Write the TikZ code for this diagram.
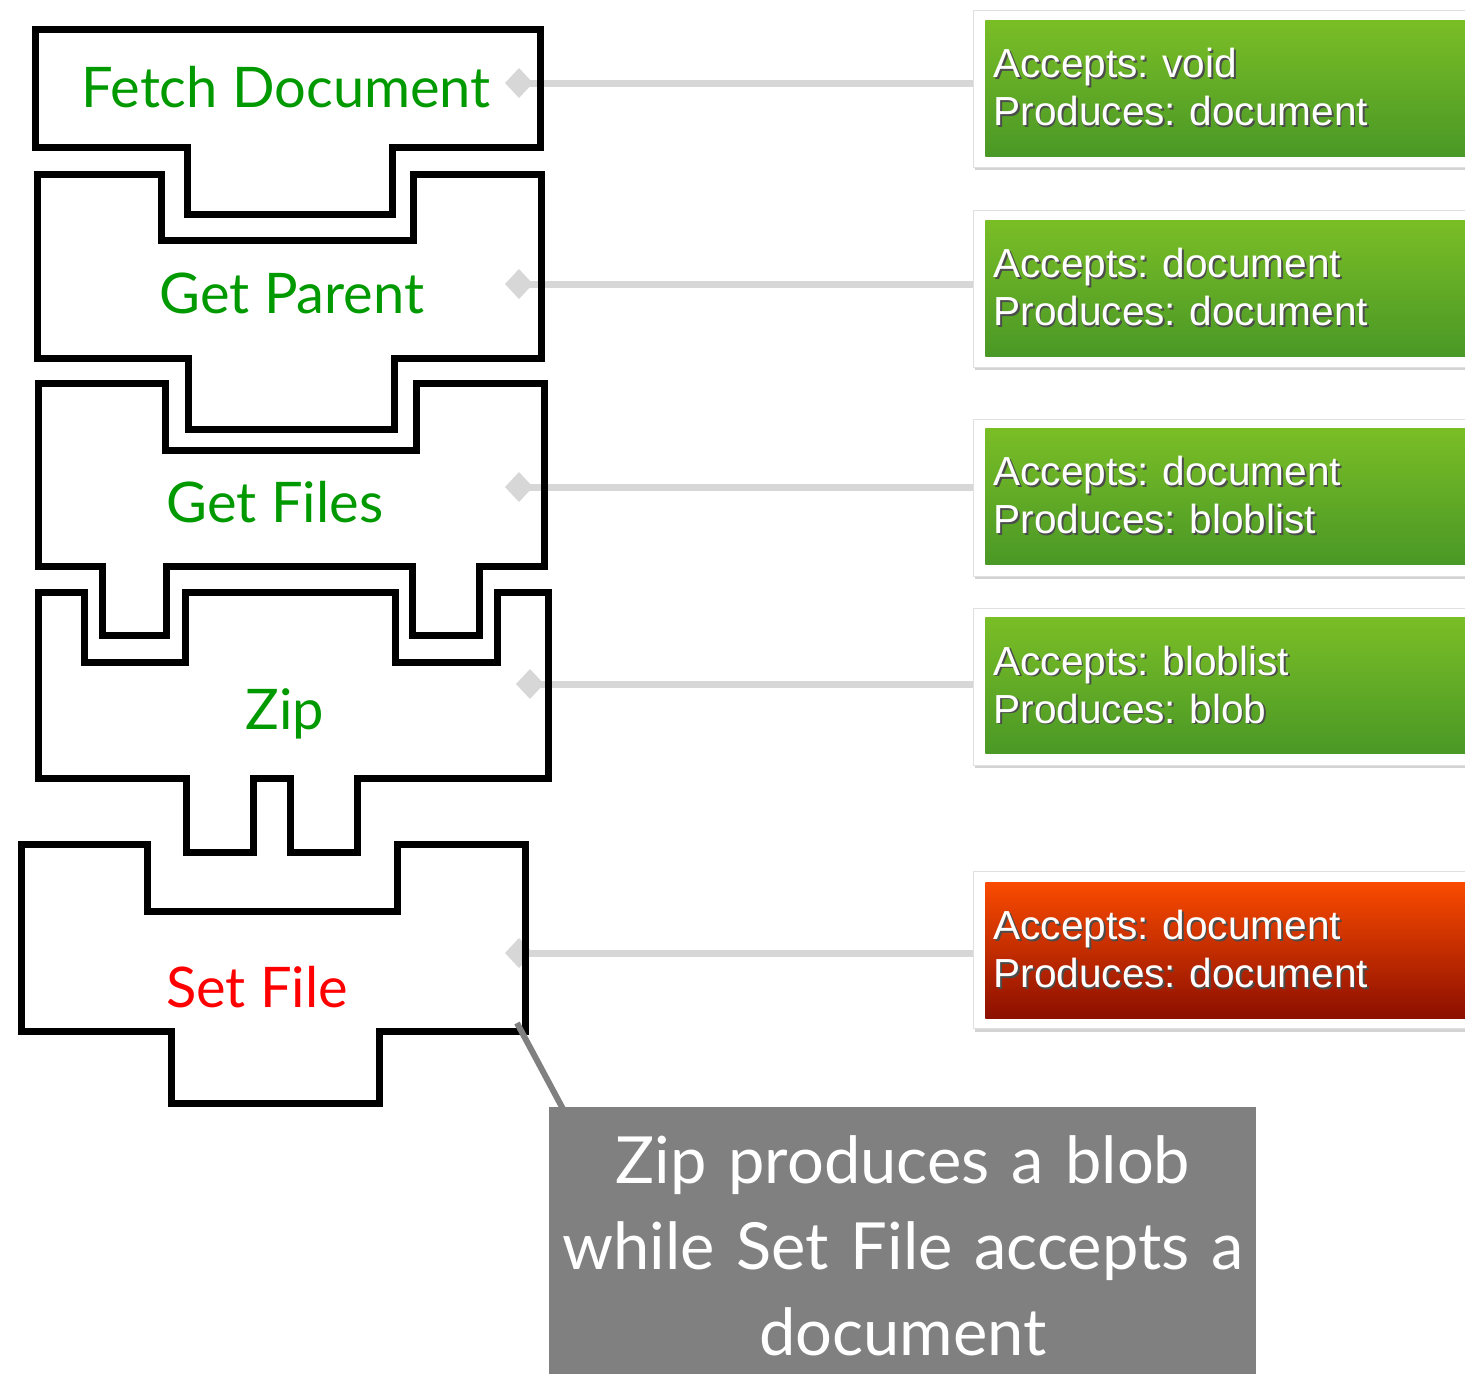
\documentclass[tikz,border=0pt]{standalone}
\usepackage{fontspec}
\setmainfont{Liberation Sans}
\newfontfamily\gillfont{Lato}
\usetikzlibrary{arrows.meta,shadows}
\frenchspacing
\definecolor{piecegreen}{RGB}{0,153,0}
\definecolor{piecered}{RGB}{255,0,0}
\definecolor{greentop}{RGB}{122,190,38}
\definecolor{greenbottom}{RGB}{74,152,38}
\definecolor{redtop}{RGB}{250,75,0}
\definecolor{redbottom}{RGB}{140,15,0}
\definecolor{linkgray}{RGB}{215,215,215}
\definecolor{notegray}{RGB}{128,128,128}
\newcommand\shadowed[1]{\leavevmode\rlap{\kern0.8pt\raisebox{-0.8pt}{\textcolor{black!70}{#1}}}#1}
\tikzstyle{piece}=[draw=black, line width=3.5pt, line join=miter]
\tikzstyle{piecelabel}=[anchor=base, inner sep=0pt, font=\gillfont\fontsize{28}{34}\selectfont, text=piecegreen]
\tikzstyle{card}=[anchor=west, fill=white, draw=black!12, line width=0.5pt, minimum width=270pt, minimum height=78.5pt, drop shadow={shadow xshift=0.6pt, shadow yshift=-1.6pt, opacity=0.35}]
\tikzstyle{info}=[anchor=west, minimum height=68pt, text width=250pt, inner xsep=4pt, align=left, text=white, font=\fontsize{20.3}{24}\selectfont, top color=greentop, bottom color=greenbottom]
\tikzstyle{conn}=[draw=linkgray, line width=3.5pt, {Diamond[length=14pt,width=15pt]}-]
\tikzstyle{notebox}=[anchor=north west, fill=notegray, minimum width=353.5pt, minimum height=138pt, text width=345pt, inner xsep=4.25pt, align=center, text=white, font=\gillfont\fontsize{32.5}{43}\selectfont]
\tikzstyle{notelink}=[draw=notegray, line width=3pt]

\begin{document}
\begin{tikzpicture}[x=0.5pt, y=-0.5pt]
            \clip (0,0) rectangle (1465,1373);

            \node[card] (fetch-card) at (973,88.5) {};
            \node[info] (fetch-info) at (985,88) {\shadowed{Accepts: void}\\\shadowed{Produces: document}};
            \node[card] (parent-card) at (973,288.5) {};
            \node[info] (parent-info) at (985,288) {\shadowed{Accepts: document}\\\shadowed{Produces: document}};
            \node[card] (files-card) at (973,497.5) {};
            \node[info] (files-info) at (985,496) {\shadowed{Accepts: document}\\\shadowed{Produces: bloblist}};
            \node[card] (zip-card) at (973,686.5) {};
            \node[info] (zip-info) at (985,685.5) {\shadowed{Accepts: bloblist}\\\shadowed{Produces: blob}};
            \node[card] (set-card) at (973,950) {};
            \node[info, top color=redtop, bottom color=redbottom] (set-info) at (985,950) {\shadowed{Accepts: document}\\\shadowed{Produces: document}};

            \coordinate (fetch-port) at (505,83);
            \coordinate (parent-port) at (505,284);
            \coordinate (files-port) at (505,487);
            \coordinate (zip-port) at (516,684);
            \coordinate (set-port) at (505,953);
            \draw[conn] (fetch-port) -- (fetch-port -| fetch-card.west);
            \draw[conn] (parent-port) -- (parent-port -| parent-card.west);
            \draw[conn] (files-port) -- (files-port -| files-card.west);
            \draw[conn] (zip-port) -- (zip-port -| zip-card.west);
            \draw[conn] (set-port) -- (set-port -| set-card.west);

            \draw[piece] (35,29) -- (540,29) -- (540,147) -- (392,147) -- (392,214)
                -- (187,214) -- (187,147) -- (35,147) -- cycle;
            \draw[piece] (37,174) -- (161,174) -- (161,240) -- (413,240) -- (413,174)
                -- (541,174) -- (541,358) -- (394,358) -- (394,429) -- (188,429)
                -- (188,358) -- (37,358) -- cycle;
            \draw[piece] (38,383) -- (165,383) -- (165,450) -- (416,450) -- (416,383)
                -- (544,383) -- (544,566) -- (479,566) -- (479,635) -- (412,635)
                -- (412,566) -- (166,566) -- (166,635) -- (102,635) -- (102,566)
                -- (38,566) -- cycle;
            \draw[piece] (38,592) -- (84,592) -- (84,662) -- (185,662) -- (185,592)
                -- (395,592) -- (395,662) -- (497,662) -- (497,592) -- (548,592)
                -- (548,778) -- (357,778) -- (357,852) -- (290,852) -- (290,778)
                -- (253,778) -- (253,852) -- (186,852) -- (186,778) -- (38,778) -- cycle;
            \draw[piece] (21,844) -- (147,844) -- (147,911) -- (397,911) -- (397,844)
                -- (525,844) -- (525,1031) -- (379,1031) -- (379,1103) -- (171,1103)
                -- (171,1031) -- (21,1031) -- cycle;

            \node[piecelabel] (fetch) at (286,107) {Fetch Document};
            \node[piecelabel] (parent) at (292,313) {Get Parent};
            \node[piecelabel] (files) at (275,522) {Get Files};
            \node[piecelabel] (zip) at (285,729) {Zip};
            \node[piecelabel, text=piecered] (set) at (257,1007) {Set File};

            \coordinate (set-corner) at (517,1023);
            \coordinate (note-hook) at (563,1109);
            \draw[notelink] (set-corner) -- (note-hook);
            \node[notebox] (note) at (549,1107) {Zip produces a blob\\while Set File accepts a\\document};
\end{tikzpicture}
\end{document}
